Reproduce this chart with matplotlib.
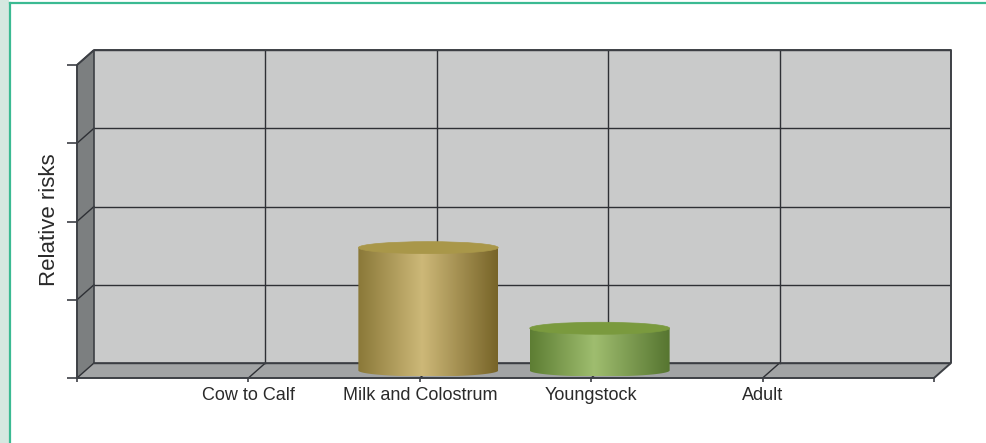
#!/usr/bin/env python3
import numpy as np
import matplotlib
matplotlib.use("Agg")
import matplotlib.pyplot as plt
from matplotlib.patches import Polygon, Ellipse, PathPatch, Rectangle
from matplotlib.path import Path
from matplotlib.colors import LinearSegmentedColormap
from matplotlib.lines import Line2D

# chart data
categories = ["Cow to Calf", "Milk and Colostrum", "Youngstock", "Adult"]
risks = [0.0, 1.57, 0.54, 0.0]
side_colors = [
    ["#8a7838", "#cdb878", "#776428"],
    ["#8a7838", "#cdb878", "#776428"],
    ["#5d7d33", "#9fbd6f", "#567530"],
    ["#5d7d33", "#9fbd6f", "#567530"],
]
top_colors = ["#a99749", "#a99749", "#7a9a3e", "#7a9a3e"]
y_ticks = [0, 1, 2, 3, 4]


def main() -> None:
    matplotlib.rcParams["font.family"] = ["Liberation Sans", "DejaVu Sans"]

    fig = plt.figure(figsize=(9.86, 4.43), dpi=100)
    fig.patch.set_facecolor("white")

    # frame of the page
    fig.add_artist(Rectangle((0, 0), 9 / 986, 1, transform=fig.transFigure,
                             facecolor="#d5e8e0", edgecolor="none"))
    fig.add_artist(Line2D([9.5 / 986, 9.5 / 986], [0, 440.5 / 443],
                          transform=fig.transFigure, color="#3bba92", lw=1.6))
    fig.add_artist(Line2D([9.5 / 986, 1], [440.5 / 443, 440.5 / 443],
                          transform=fig.transFigure, color="#3bba92", lw=1.6))

    n_slots = len(categories) + 1
    ymax = y_ticks[-1]
    dx = 17 / 171.4
    dy = 15 / 78.25

    ax = fig.add_axes([77 / 986, 65 / 443, 874 / 986, 328 / 443])
    ax.set_facecolor("none")

    wall = "#c9caca"
    side = "#7c7f80"
    floor = "#a2a4a5"
    line = "#2e3035"
    edge = "#3d4045"

    ax.add_patch(Polygon([(dx, dy), (n_slots + dx, dy), (n_slots + dx, ymax + dy), (dx, ymax + dy)],
                         facecolor=wall, edgecolor="none", zorder=0))
    ax.add_patch(Polygon([(0, 0), (dx, dy), (dx, ymax + dy), (0, ymax)],
                         facecolor=side, edgecolor="none", zorder=0))
    ax.add_patch(Polygon([(0, 0), (n_slots, 0), (n_slots + dx, dy), (dx, dy)],
                         facecolor=floor, edgecolor="none", zorder=0))

    # gridlines on the walls
    for y in y_ticks:
        ax.plot([dx, n_slots + dx], [y + dy, y + dy], color=line, lw=1.0, zorder=1)
        ax.plot([0, dx], [y, y + dy], color=line, lw=1.0, zorder=1)
    for x in range(1, n_slots):
        ax.plot([x + dx, x + dx], [dy, ymax + dy], color=line, lw=1.0, zorder=1)
        ax.plot([x, x + dx], [0, dy], color=line, lw=1.0, zorder=1)

    # outer edges of the box
    ax.plot([0, 0, dx, n_slots + dx, n_slots + dx, n_slots, 0],
            [0, ymax, ymax + dy, ymax + dy, dy, 0, 0],
            color=edge, lw=1.4, zorder=2, clip_on=False)
    ax.plot([dx, dx], [dy, ymax + dy], color=edge, lw=1.2, zorder=2)
    ax.plot([dx, n_slots + dx], [dy, dy], color=edge, lw=1.2, zorder=2)

    # cylinders
    a = 0.408
    b = 6 / 78.25
    grad = np.linspace(0, 1, 256).reshape(1, -1)
    for i, (cat, val) in enumerate(zip(categories, risks)):
        if val <= 0:
            continue
        cx = i + 1 + dx / 2
        y0 = dy / 2
        y1 = val + dy / 2
        t = np.linspace(np.pi, 2 * np.pi, 60)
        verts = [(cx - a, y1), (cx - a, y0)]
        verts += list(zip(cx + a * np.cos(t), y0 + b * np.sin(t)))
        verts += [(cx + a, y1), (cx - a, y1)]
        codes = [Path.MOVETO] + [Path.LINETO] * (len(verts) - 2) + [Path.CLOSEPOLY]
        body = PathPatch(Path(verts, codes), facecolor="none", edgecolor="none", zorder=3)
        ax.add_patch(body)
        cmap = LinearSegmentedColormap.from_list(
            cat, [(0, side_colors[i][0]), (0.46, side_colors[i][1]), (1, side_colors[i][2])])
        im = ax.imshow(grad, cmap=cmap, aspect="auto", extent=[cx - a, cx + a, y0 - b, y1],
                       interpolation="bicubic", zorder=3)
        im.set_clip_path(body)
        ax.add_patch(Ellipse((cx, y1), 2 * a, 2 * b, facecolor=top_colors[i],
                             edgecolor=top_colors[i], lw=0.5, zorder=4))

    ax.set_xlim(0, n_slots + dx)
    ax.set_ylim(0, ymax + dy)

    ax.set_xticks(range(n_slots + 1))
    ax.set_xticklabels([""] + categories + [""], fontsize=13, color="#2a2a2a")
    ax.set_yticks(y_ticks)
    ax.set_yticklabels([""] * len(y_ticks))
    ax.tick_params(axis="x", direction="out", length=3, width=1.2, color=edge, pad=3.5)
    ax.tick_params(axis="y", direction="out", length=7, width=1.2, color=edge)
    for s in ax.spines.values():
        s.set_visible(False)

    ax.set_ylabel("Relative risks", fontsize=16, color="#2a2a2a")
    ax.yaxis.set_label_coords(-0.02, 0.482)

    fig.savefig("out.png", dpi=100)
    plt.close(fig)


if __name__ == "__main__":
    main()
